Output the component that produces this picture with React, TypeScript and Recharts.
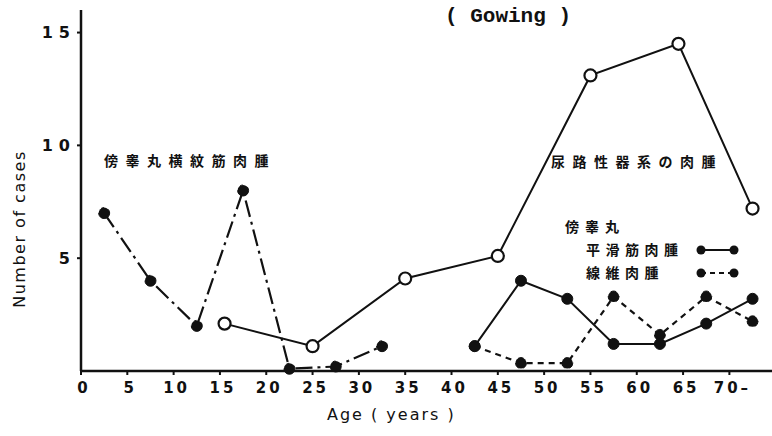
import { LineChart, Line, XAxis, YAxis } from 'recharts'

// age midpoints (years) and case counts
const ageRhabdo = [2.5, 7.5, 12.5, 17.5, 22.5, 27.5, 32.5]
const casesRhabdo = [7, 4, 2, 8, 0.1, 0.2, 1.1]

const ageUro = [15.5, 25, 35, 45, 55, 64.5, 72.5]
const casesUro = [2.1, 1.1, 4.1, 5.1, 13.1, 14.5, 7.2]

const ageParatest = [42.5, 47.5, 52.5, 57.5, 62.5, 67.5, 72.5]
const casesLeio = [1.1, 4, 3.2, 1.2, 1.2, 2.1, 3.2]
const casesFibro = [1.1, 0.35, 0.35, 3.3, 1.6, 3.3, 2.2]

const xTicks = [0, 5, 10, 15, 20, 25, 30, 35, 40, 45, 50, 55, 60, 65, 70]
const yTicks = [5, 10, 15]

const zip = (xs: number[], ys: number[]) => xs.map((x, i) => ({ age: x, cases: ys[i] }))

const rhabdo = zip(ageRhabdo, casesRhabdo)
const uro = zip(ageUro, casesUro)
const leio = zip(ageParatest, casesLeio)
const fibro = zip(ageParatest, casesFibro)

const INK = '#111'
const JP = '"Noto Sans CJK JP", sans-serif'
const filledDot = { r: 5.5, fill: INK, stroke: INK, strokeWidth: 1 }
const openDot = { r: 6, fill: '#fff', stroke: INK, strokeWidth: 2.2 }

const legendItems = [
  { label: '平滑筋肉腫', dash: undefined },
  { label: '線維肉腫', dash: '5 4' },
]

function ParatestLegend() {
  return (
    <div style={{ position: 'absolute', left: 565, top: 215, fontFamily: JP, fontSize: 14, fontWeight: 700, color: INK, lineHeight: '23px', whiteSpace: 'nowrap' }}>
      <div style={{ letterSpacing: 6 }}>傍睾丸</div>
      {legendItems.map((it) => (
        <div key={it.label} style={{ display: 'flex', alignItems: 'center', paddingLeft: 21 }}>
          <span style={{ letterSpacing: 5.5, width: 110, display: 'inline-block' }}>{it.label}</span>
          <svg width={44} height={12} style={{ display: 'block' }}>
            <line x1={5} y1={6} x2={38} y2={6} stroke={INK} strokeWidth={2} strokeDasharray={it.dash} />
            <circle cx={5} cy={6} r={4.5} fill={INK} />
            <circle cx={38} cy={6} r={4.5} fill={INK} />
          </svg>
        </div>
      ))}
    </div>
  )
}

const tickFont = { fill: INK, fontSize: 15, fontWeight: 700, fontFamily: 'DejaVu Sans', letterSpacing: 3, dx: 3 }

export default function App() {
  return (
    <div style={{ position: 'absolute', left: 0, top: 0, width: 772, height: 436, background: '#fff' }}>
      <LineChart width={772} height={436} margin={{ top: 10, right: 0, bottom: 35, left: 0 }}>
        <XAxis
          type="number"
          dataKey="age"
          domain={[0, 74.6]}
          ticks={xTicks}
          tickFormatter={(v) => (v === 70 ? '70–' : String(v))}
          height={30}
          tickSize={4}
          tickMargin={7}
          axisLine={{ stroke: INK, strokeWidth: 2.5 }}
          tickLine={{ stroke: INK, strokeWidth: 2 }}
          tick={tickFont}
          allowDuplicatedCategory={false}
        />
        <YAxis
          type="number"
          domain={[0, 16]}
          ticks={yTicks}
          width={81}
          tickSize={4}
          tickMargin={1}
          axisLine={{ stroke: INK, strokeWidth: 2.5 }}
          tickLine={{ stroke: INK, strokeWidth: 2 }}
          tick={{ ...tickFont, dx: 0, fontSize: 16, letterSpacing: 6 }}
        />
        <Line data={rhabdo} dataKey="cases" type="linear" stroke={INK} strokeWidth={2.2}
          strokeDasharray="17 5 3 5" dot={filledDot} activeDot={false} isAnimationActive={false} />
        <Line data={fibro} dataKey="cases" type="linear" stroke={INK} strokeWidth={2.2}
          strokeDasharray="6 5" dot={filledDot} activeDot={false} isAnimationActive={false} />
        <Line data={leio} dataKey="cases" type="linear" stroke={INK} strokeWidth={2}
          dot={filledDot} activeDot={false} isAnimationActive={false} />
        <Line data={uro} dataKey="cases" type="linear" stroke={INK} strokeWidth={2}
          dot={openDot} activeDot={false} isAnimationActive={false} />
      </LineChart>

      <ParatestLegend />
      <div style={{ position: 'absolute', left: 445, top: 5, fontFamily: '"Liberation Mono", monospace', fontWeight: 700, fontSize: 21, color: INK, whiteSpace: 'pre' }}>
        ( Gowing )
      </div>
      <div style={{ position: 'absolute', left: 104, top: 150, fontFamily: JP, fontWeight: 700, fontSize: 14, letterSpacing: 7.5, color: INK, whiteSpace: 'nowrap' }}>
        傍睾丸横紋筋肉腫
      </div>
      <div style={{ position: 'absolute', left: 551, top: 151, fontFamily: JP, fontWeight: 700, fontSize: 14, letterSpacing: 7.5, color: INK, whiteSpace: 'nowrap' }}>
        尿路性器系の肉腫
      </div>
      <div style={{ position: 'absolute', left: 327, top: 405, fontFamily: 'DejaVu Sans', fontSize: 16, color: INK, whiteSpace: 'pre', letterSpacing: 2 }}>
        Age ( years )
      </div>
      <div style={{ position: 'absolute', left: 19, top: 229, width: 0, height: 0 }}>
        <div style={{ position: 'absolute', transform: 'translate(-50%, -50%) rotate(-90deg)', fontFamily: 'DejaVu Sans', fontSize: 16, letterSpacing: 1.5, color: INK, whiteSpace: 'nowrap' }}>
          Number of cases
        </div>
      </div>
    </div>
  )
}
